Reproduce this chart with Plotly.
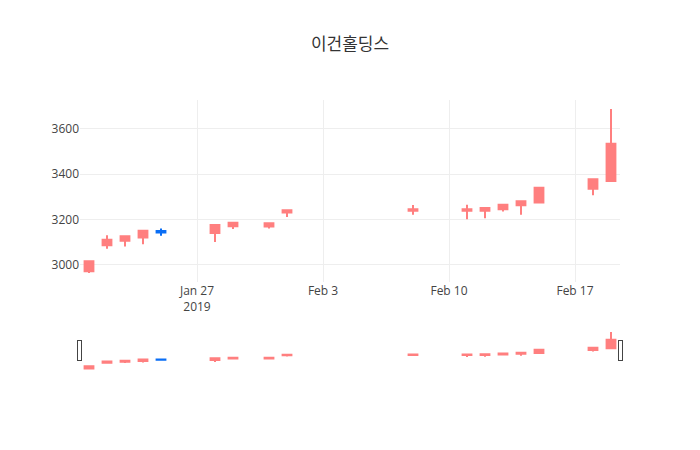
import plotly.graph_objects as go

dates = ["2019-01-21", "2019-01-22", "2019-01-23", "2019-01-24", "2019-01-25",
         "2019-01-28", "2019-01-29", "2019-01-31", "2019-02-01",
         "2019-02-08", "2019-02-11", "2019-02-12", "2019-02-13", "2019-02-14",
         "2019-02-15", "2019-02-18", "2019-02-19"]
open_ = [2970, 3085, 3105, 3120, 3148, 3140, 3170, 3168, 3230,
         3238, 3238, 3238, 3245, 3262, 3275, 3335, 3370]
high = [3015, 3130, 3125, 3150, 3160, 3175, 3185, 3183, 3240,
        3263, 3265, 3250, 3265, 3280, 3340, 3378, 3688]
low = [2963, 3070, 3080, 3090, 3127, 3100, 3157, 3160, 3210,
       3220, 3200, 3205, 3235, 3220, 3275, 3307, 3370]
close = [3015, 3110, 3125, 3150, 3142, 3175, 3185, 3183, 3240,
         3245, 3245, 3250, 3265, 3280, 3340, 3378, 3535]

title = "이건홀딩스"

fig = go.Figure(go.Candlestick(
    x=dates, open=open_, high=high, low=low, close=close,
    increasing=dict(line=dict(color="#ff7f7f"), fillcolor="#ff7f7f"),
    decreasing=dict(line=dict(color="#0a6ef5"), fillcolor="#0a6ef5"),
))
fig.update_layout(
    template="none",
    title=dict(text=title, x=0.5, font=dict(family="Noto Sans CJK KR, Open Sans, sans-serif", color="#333")),
    width=700, height=450,
    showlegend=False,
    xaxis=dict(rangeslider=dict(visible=True)),
)
fig.write_html("out.html")
